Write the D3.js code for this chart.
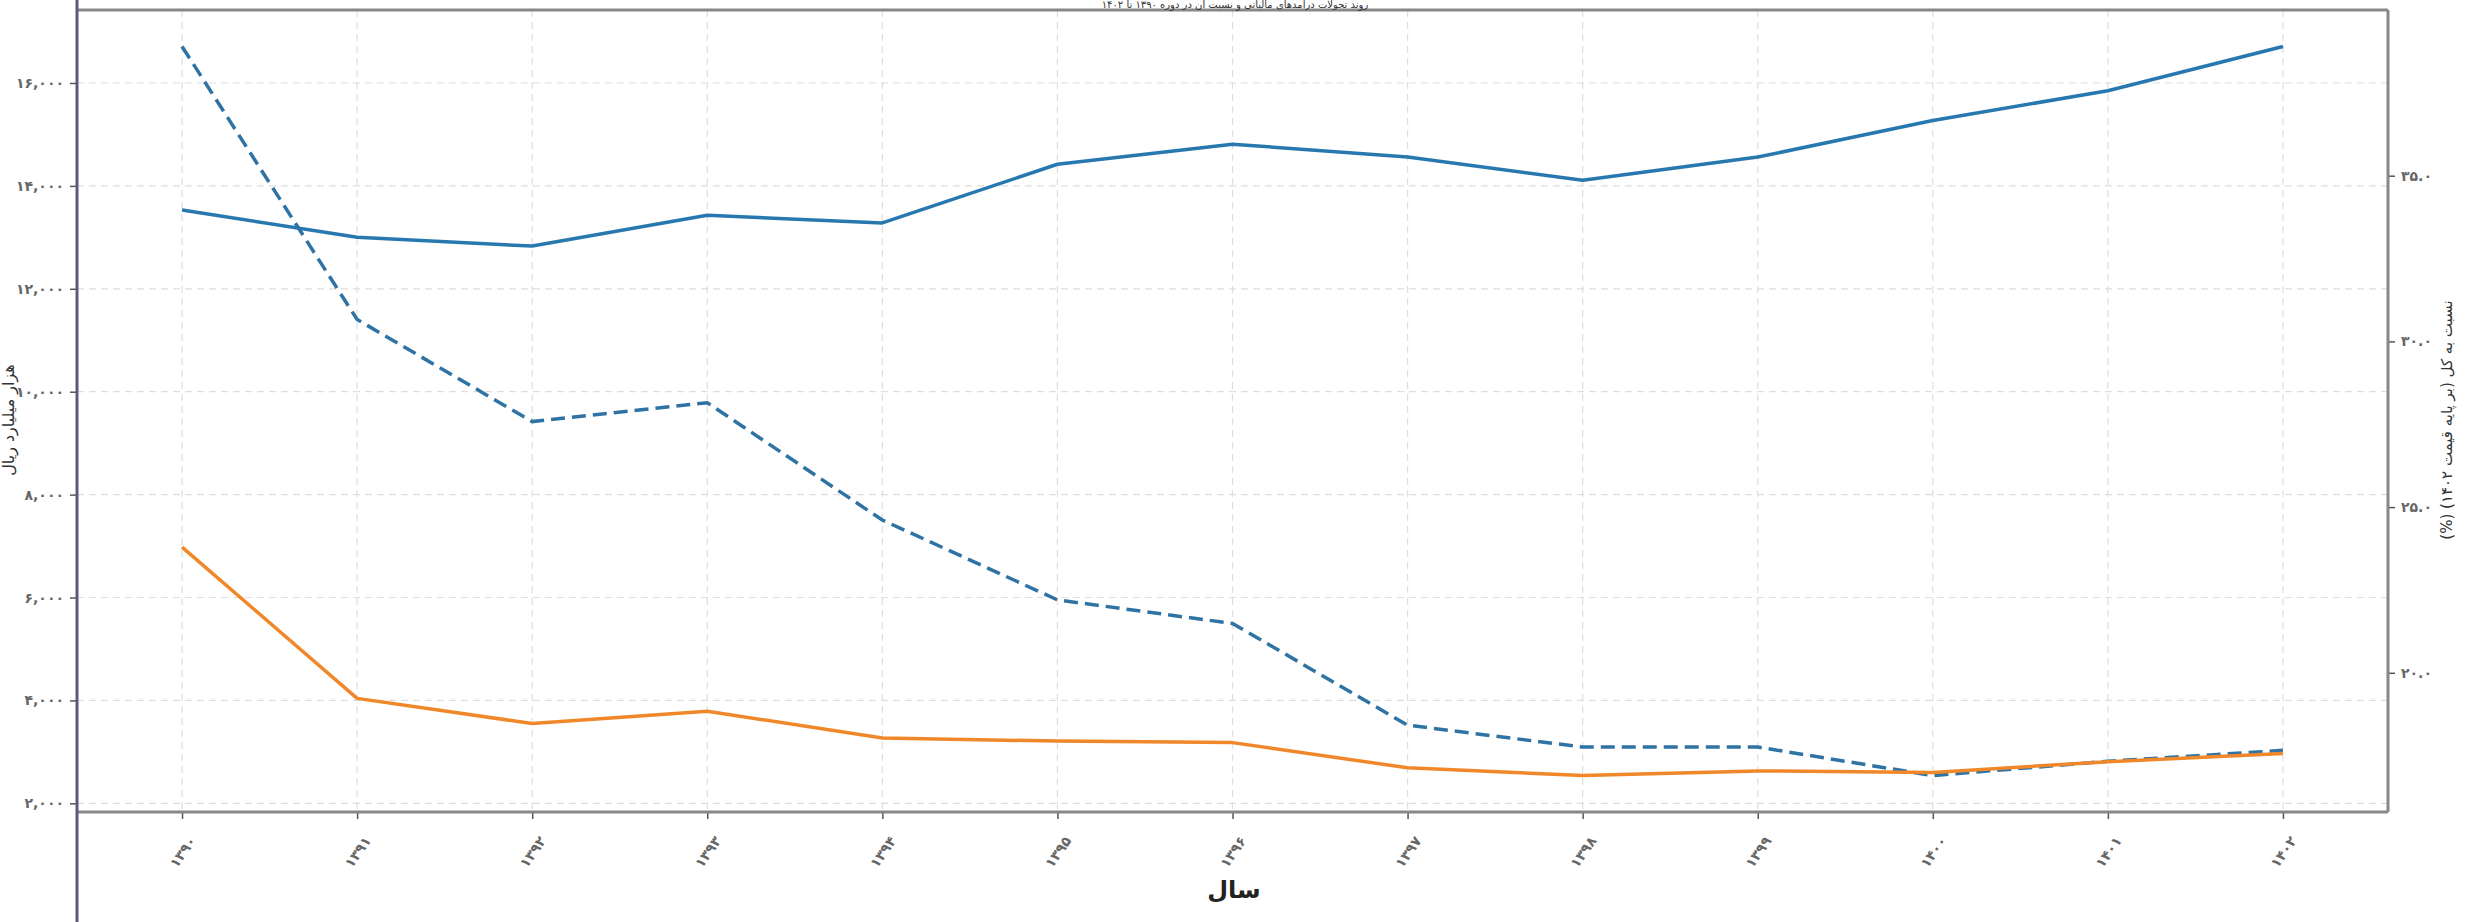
<!DOCTYPE html>
<html><head><meta charset="utf-8">
<script src="https://cdn.jsdelivr.net/npm/d3@7/dist/d3.min.js"></script>
<style>html,body{margin:0;padding:0;background:#fff;}svg{display:block;}</style>
</head><body>
<script>
const years = [1390,1391,1392,1393,1394,1395,1396,1397,1398,1399,1400,1401,1402];
const yearLabels = ["۱۳۹۰","۱۳۹۱","۱۳۹۲","۱۳۹۳","۱۳۹۴","۱۳۹۵","۱۳۹۶","۱۳۹۷","۱۳۹۸","۱۳۹۹","۱۴۰۰","۱۴۰۱","۱۴۰۲"];
const blueValues = [13530,13000,12830,13430,13280,14420,14810,14560,14110,14560,15270,15850,16710];
const orangeValues = [6980,4040,3550,3790,3270,3210,3180,2690,2540,2630,2600,2810,2970];
const ratioValues = [38.9,30.66,27.58,28.15,24.61,22.2,21.49,18.42,17.76,17.76,16.9,17.33,17.66];
const leftTicks = [2000,4000,6000,8000,10000,12000,14000,16000];
const leftTickLabels = ["۲,۰۰۰","۴,۰۰۰","۶,۰۰۰","۸,۰۰۰","۱۰,۰۰۰","۱۲,۰۰۰","۱۴,۰۰۰","۱۶,۰۰۰"];
const rightTicks = [20,25,30,35];
const rightTickLabels = ["۲۰.۰","۲۵.۰","۳۰.۰","۳۵.۰"];
const titleText = "روند تحولات درآمدهای مالیاتی و نسبت آن در دوره ۱۳۹۰ تا ۱۴۰۲";
const xLabel = "سال";
const leftLabel = "هزار میلیارد ریال";
const rightLabel = "نسبت به کل (بر پایه قیمت ۱۴۰۲) (%)";

const W = 2465, H = 922;
const M = {left:77, right:2388, top:10, bottom:812};
const font = "DejaVu Sans, Noto Sans, sans-serif";

const svg = d3.select("body").append("svg").attr("width",W).attr("height",H);
svg.append("rect").attr("width",W).attr("height",H).attr("fill","#fff");

function padded(ext){const r=ext[1]-ext[0];return [ext[0]-0.05*r, ext[1]+0.05*r];}
const x = d3.scaleLinear().domain(padded(d3.extent(years))).range([M.left,M.right]);
const yL = d3.scaleLinear().domain(padded(d3.extent(blueValues.concat(orangeValues)))).range([M.bottom,M.top]);
const yR = d3.scaleLinear().domain(padded(d3.extent(ratioValues))).range([M.bottom,M.top]);

// grid
const grid = svg.append("g");
grid.selectAll(".gx").data(years).join("line")
  .attr("x1",d=>x(d)).attr("x2",d=>x(d)).attr("y1",M.top).attr("y2",M.bottom)
  .attr("stroke","#dedede").attr("stroke-width",1.2).attr("stroke-dasharray","7,5");
grid.selectAll(".gy").data(leftTicks).join("line")
  .attr("x1",M.left).attr("x2",M.right).attr("y1",d=>yL(d)).attr("y2",d=>yL(d))
  .attr("stroke","#dedede").attr("stroke-width",1.2).attr("stroke-dasharray","7,5");

// axes
const axL = d3.axisLeft(yL).tickValues(leftTicks).tickFormat((d,i)=>leftTickLabels[i]).tickSize(7).tickPadding(6);
const axR = d3.axisRight(yR).tickValues(rightTicks).tickFormat((d,i)=>rightTickLabels[i]).tickSize(7).tickPadding(6);
const axB = d3.axisBottom(x).tickValues(years).tickFormat((d,i)=>yearLabels[i]).tickSize(7).tickPadding(6);

function styleAxis(g){
  g.select(".domain").remove();
  g.selectAll(".tick line").attr("stroke","#555").attr("stroke-width",1.5);
  g.selectAll(".tick text").attr("fill","#666").attr("font-family",font).attr("font-size",14).attr("font-weight","bold");
}
svg.append("g").attr("transform",`translate(${M.left},0)`).call(axL).call(styleAxis);
svg.append("g").attr("transform",`translate(${M.right},0)`).call(axR).call(styleAxis);
const gb = svg.append("g").attr("transform",`translate(0,${M.bottom})`).call(axB).call(styleAxis);
gb.selectAll(".tick text").attr("text-anchor","end").attr("dy","0.35em")
  .attr("transform","translate(10,26) rotate(-55)").attr("x",0).attr("y",0);

// lines
const lineL = d3.line().x((d,i)=>x(years[i])).y(d=>yL(d));
const lineR = d3.line().x((d,i)=>x(years[i])).y(d=>yR(d));
svg.append("path").datum(blueValues).attr("d",lineL).attr("fill","none")
  .attr("stroke","#2878b0").attr("stroke-width",3.5).attr("stroke-linejoin","round");
svg.append("path").datum(ratioValues).attr("d",lineR).attr("fill","none")
  .attr("stroke","#2f73a5").attr("stroke-width",3.5).attr("stroke-dasharray","14,7");
svg.append("path").datum(orangeValues).attr("d",lineL).attr("fill","none")
  .attr("stroke","#f0882a").attr("stroke-width",3.5).attr("stroke-linejoin","round");

// spines
svg.append("line").attr("x1",M.left).attr("x2",M.right).attr("y1",M.top).attr("y2",M.top).attr("stroke","#888").attr("stroke-width",3);
svg.append("line").attr("x1",M.left).attr("x2",M.right).attr("y1",M.bottom).attr("y2",M.bottom).attr("stroke","#888").attr("stroke-width",3);
svg.append("line").attr("x1",M.right).attr("x2",M.right).attr("y1",M.top).attr("y2",M.bottom).attr("stroke","#888").attr("stroke-width",3);
svg.append("line").attr("x1",M.left).attr("x2",M.left).attr("y1",0).attr("y2",H).attr("stroke","#5a5a80").attr("stroke-width",3);

// texts
svg.append("text").attr("x",1235).attr("y",8).attr("text-anchor","middle")
  .attr("font-family",font).attr("font-size",10).attr("fill","#333").attr("direction","rtl").text(titleText);
svg.append("text").attr("x",1234).attr("y",898).attr("text-anchor","middle")
  .attr("font-family",font).attr("font-size",24).attr("font-weight","bold").attr("fill","#222").text(xLabel);
svg.append("text").attr("transform","translate(14,420) rotate(-90)").attr("text-anchor","middle")
  .attr("font-family",font).attr("font-size",16).attr("fill","#333").attr("direction","rtl").text(leftLabel);
svg.append("text").attr("transform","translate(2452,420) rotate(-90)").attr("text-anchor","middle")
  .attr("font-family",font).attr("font-size",15).attr("fill","#333").attr("direction","rtl").text(rightLabel);
</script>
</body></html>
